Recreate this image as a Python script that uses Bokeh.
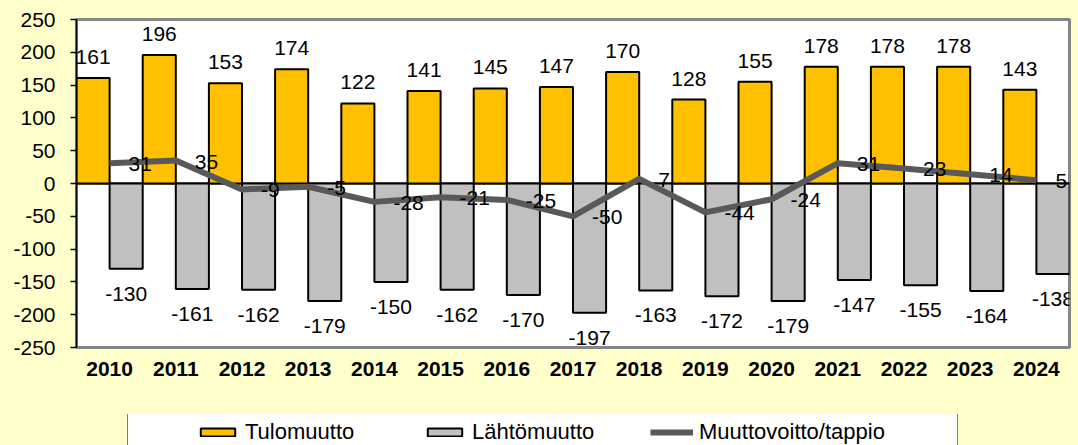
from bokeh.plotting import figure
from bokeh.layouts import column
from bokeh.models import (ColumnDataSource, Range1d, FixedTicker, Span, Legend, LegendItem)
from bokeh.core.properties import value
from bokeh.transform import dodge
from bokeh.embed import file_html
from bokeh.resources import INLINE

# ---- data ----
years = ["2010", "2011", "2012", "2013", "2014", "2015", "2016", "2017",
         "2018", "2019", "2020", "2021", "2022", "2023", "2024"]
tulomuutto = [161, 196, 153, 174, 122, 141, 145, 147, 170, 128, 155, 178, 178, 178, 143]
lahtomuutto = [-130, -161, -162, -179, -150, -162, -170, -197, -163, -172, -179, -147, -155, -164, -138]
muuttovoitto = [31, 35, -9, -5, -28, -21, -25, -50, 7, -44, -24, 31, 23, 14, 5]
y_ticks = [-250, -200, -150, -100, -50, 0, 50, 100, 150, 200, 250]
y_tick_labels = ["-250", "-200", "-150", "-100", "-50", "0", "50", "100", "150", "200", "250"]
series_names = ["Tulomuutto", "Lähtömuutto", "Muuttovoitto/tappio"]

FONT = "Liberation Sans"
FS = "21px"
BG = "#FFFFCC"
C_TULO = "#FFC000"
C_LAHTO = "#C0C0C0"
C_LINE = "#595959"
idx = list(range(len(years)))

src = ColumnDataSource(dict(
    x=idx,
    tulo=tulomuutto,
    lahto=lahtomuutto,
    voitto=muuttovoitto,
    tulo_lbl=[str(v) for v in tulomuutto],
    lahto_lbl=[str(v) for v in lahtomuutto],
    voitto_lbl=[str(v) for v in muuttovoitto],
))

# ---------------- main chart ----------------
p = figure(width=1078, height=414, output_backend="svg", toolbar_location=None,
           x_range=Range1d(-0.5, len(years) - 0.5), y_range=Range1d(-250, 250),
           min_border_left=76, min_border_right=9, min_border_top=19, min_border_bottom=67)
p.background_fill_color = "white"
p.border_fill_color = BG
p.outline_line_color = "#868686"
p.outline_line_width = 3
p.grid.visible = False

zero = Span(location=0, dimension="width", line_color="black", line_width=2, level="underlay")
p.add_layout(zero)

r_tulo = p.vbar(x=dodge("x", -0.25, range=p.x_range), top="tulo", bottom=0, width=0.5,
                source=src, fill_color=C_TULO, line_color="black", line_width=2)
r_lahto = p.vbar(x=dodge("x", 0.25, range=p.x_range), top=0, bottom="lahto", width=0.5,
                 source=src, fill_color=C_LAHTO, line_color="black", line_width=2)
r_line = p.line(x="x", y="voitto", source=src, line_color=C_LINE, line_width=6,
                line_join="round")

common = dict(text_font=value(FONT), text_font_size=FS, text_color="black", source=src)
p.text(x=dodge("x", -0.25, range=p.x_range), y="tulo", text="tulo_lbl",
       text_align="center", text_baseline="alphabetic", y_offset=-21, **common)
p.text(x=dodge("x", 0.25, range=p.x_range), y="lahto", text="lahto_lbl",
       text_align="center", text_baseline="alphabetic", y_offset=25, **common)
p.text(x="x", y="voitto", text="voitto_lbl",
       text_align="left", text_baseline="alphabetic", x_offset=19, y_offset=1, **common)

ya = p.yaxis[0]
ya.ticker = FixedTicker(ticks=y_ticks)
ya.major_label_overrides = {t: l for t, l in zip(y_ticks, y_tick_labels)}
ya.major_label_text_font = FONT
ya.major_label_text_font_size = FS
ya.major_label_text_color = "black"
ya.axis_line_color = "black"
ya.axis_line_width = 1.5
ya.major_tick_line_color = "black"
ya.major_tick_line_width = 1.5
ya.major_tick_out = 6
ya.major_tick_in = 0
ya.minor_tick_out = 0
ya.minor_tick_in = 0
ya.major_label_standoff = 15

xa = p.xaxis[0]
xa.ticker = FixedTicker(ticks=idx)
xa.major_label_overrides = {i: y for i, y in zip(idx, years)}
xa.major_label_text_font = FONT
xa.major_label_text_font_size = FS
xa.major_label_text_font_style = "bold"
xa.major_label_text_color = "black"
xa.axis_line_color = "#868686"
xa.axis_line_width = 3
xa.major_tick_out = 0
xa.major_tick_in = 0
xa.minor_tick_out = 0
xa.minor_tick_in = 0
xa.major_label_standoff = 14

# ---------------- legend strip ----------------
pl = figure(width=1078, height=31, output_backend="svg", toolbar_location=None,
            x_range=Range1d(0, 1), y_range=Range1d(0, 1),
            x_axis_location=None, y_axis_location=None,
            min_border_left=0, min_border_right=0, min_border_top=0, min_border_bottom=0)
pl.background_fill_alpha = 0
pl.border_fill_alpha = 0
pl.outline_line_color = None
pl.grid.visible = False

# legend-only renderers (not drawn, only provide the legend swatches)
k_tulo = pl.vbar(x="x", top="tulo", width=0.5, source=src, visible=False,
                 fill_color=C_TULO, line_color="black", line_width=2)
k_lahto = pl.vbar(x="x", top="lahto", width=0.5, source=src, visible=False,
                  fill_color=C_LAHTO, line_color="black", line_width=2)
k_line = pl.line(x="x", y="voitto", source=src, visible=False,
                 line_color=C_LINE, line_width=6)
k_box = pl.scatter(x="x", y="voitto", source=src, visible=False,
                   size=1, fill_alpha=0, line_alpha=0)

leg_box = Legend(items=[LegendItem(label=" ", renderers=[k_box])],
                 location=(51, -10), orientation="horizontal",
                 padding=0, margin=0, spacing=0, glyph_width=1, glyph_height=1,
                 label_standoff=0, label_width=828, label_height=40,
                 label_text_font_size="1px",
                 border_line_color="black", border_line_width=1,
                 background_fill_color="white", background_fill_alpha=1,
                 inactive_fill_alpha=0)
pl.add_layout(leg_box, "center")

leg = Legend(items=[LegendItem(label=series_names[0], renderers=[k_tulo]),
                    LegendItem(label=series_names[1], renderers=[k_lahto]),
                    LegendItem(label=series_names[2], renderers=[k_line])],
             location=(120, 0), orientation="horizontal",
             padding=0, margin=0, spacing=0, glyph_width=43, glyph_height=10,
             label_standoff=6, label_width=178, label_height=25,
             label_text_font=FONT, label_text_font_size="22px", label_text_color="black",
             border_line_alpha=0, background_fill_alpha=0, inactive_fill_alpha=0)
pl.add_layout(leg, "center")

layout = column(p, pl, spacing=0, styles={"background-color": BG})
open("out.html", "w").write(file_html(layout, INLINE))
